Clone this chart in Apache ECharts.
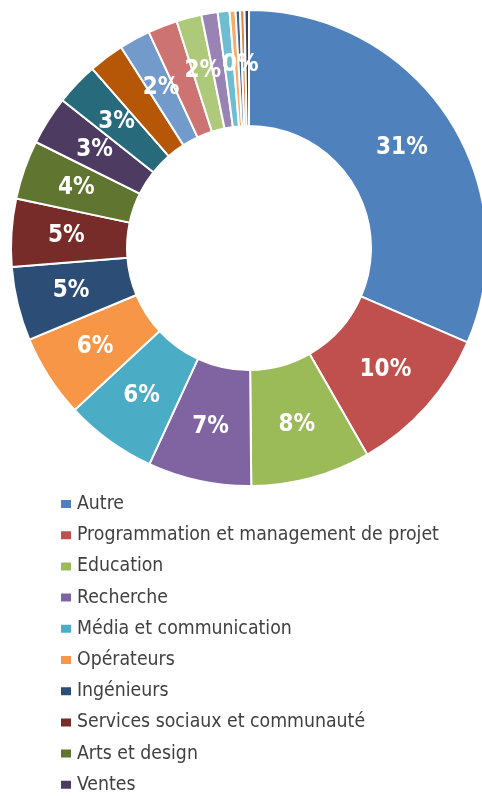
<!DOCTYPE html>
<html>
<head>
<meta charset="utf-8">
<style>
  html, body { margin: 0; padding: 0; background: #ffffff; }
  #chart { width: 482px; height: 796px; }
</style>
<script src="https://cdn.jsdelivr.net/npm/echarts@6/dist/echarts.min.js"></script>
</head>
<body>
<div id="chart"></div>
<script>
// Sectors of activity, in clockwise order from twelve o'clock
const categories = [
  'Autre',
  'Programmation et management de projet',
  'Education',
  'Recherche',
  'Média et communication',
  'Opérateurs',
  'Ingénieurs',
  'Services sociaux et communauté',
  'Arts et design',
  'Ventes',
  'Santé',
  'Administration',
  'Finance',
  'Informatique',
  'Droit',
  'Agriculture',
  'Logistique',
  'Tourisme',
  'Construction',
  'Sécurité',
  'Énergie'
];

// Share of respondents (%)
const shares = [31.4, 10.2, 8.1, 7.0, 6.2, 5.6, 5.0, 4.6, 4.0, 3.3, 2.9, 2.4, 2.1, 2.0, 1.7, 1.1, 0.8, 0.4, 0.3, 0.3, 0.3];

const colors = [
  '#4f81bd', '#c0504d', '#9bbb59', '#8064a2', '#4bacc6', '#f79646',
  '#2c4d75', '#772c2a', '#5f7530', '#4d3b62', '#276a7c', '#b65708',
  '#729aca', '#cd7371', '#afc97a', '#9983b5', '#6fbdd1', '#f9ab6b',
  '#3a6496', '#d98a4a', '#3d3d5c'
];

// Only the first ten sectors are listed in the key
const legendNames = categories.slice(0, 10);

const FONT = '"DejaVu Sans Condensed", "DejaVu Sans", sans-serif';

const chart = echarts.init(document.getElementById('chart'), null, { renderer: 'canvas' });

chart.setOption({
  animation: false,
  color: colors,
  legend: {
    orient: 'vertical',
    left: 54,
    top: 489,
    height: 400,
    data: legendNames,
    icon: 'rect',
    itemWidth: 12,
    itemHeight: 10,
    itemGap: 11.2,
    textStyle: {
      fontFamily: FONT,
      fontSize: 19.3,
      lineHeight: 20,
      color: '#404040'
    }
  },
  series: [{
    type: 'pie',
    center: [249, 248],
    radius: [122, 238],
    startAngle: 90,
    clockwise: true,
    avoidLabelOverlap: false,
    itemStyle: { borderColor: '#ffffff', borderWidth: 2 },
    label: {
      position: 'inside',
      color: '#ffffff',
      fontFamily: FONT,
      fontWeight: 'bold',
      fontSize: 24,
      formatter: p => Math.round(p.percent) + '%'
    },
    labelLine: { show: false },
    emphasis: { disabled: true },
    data: categories.map((name, i) => ({ name, value: shares[i] }))
  }]
});
</script>
</body>
</html>
